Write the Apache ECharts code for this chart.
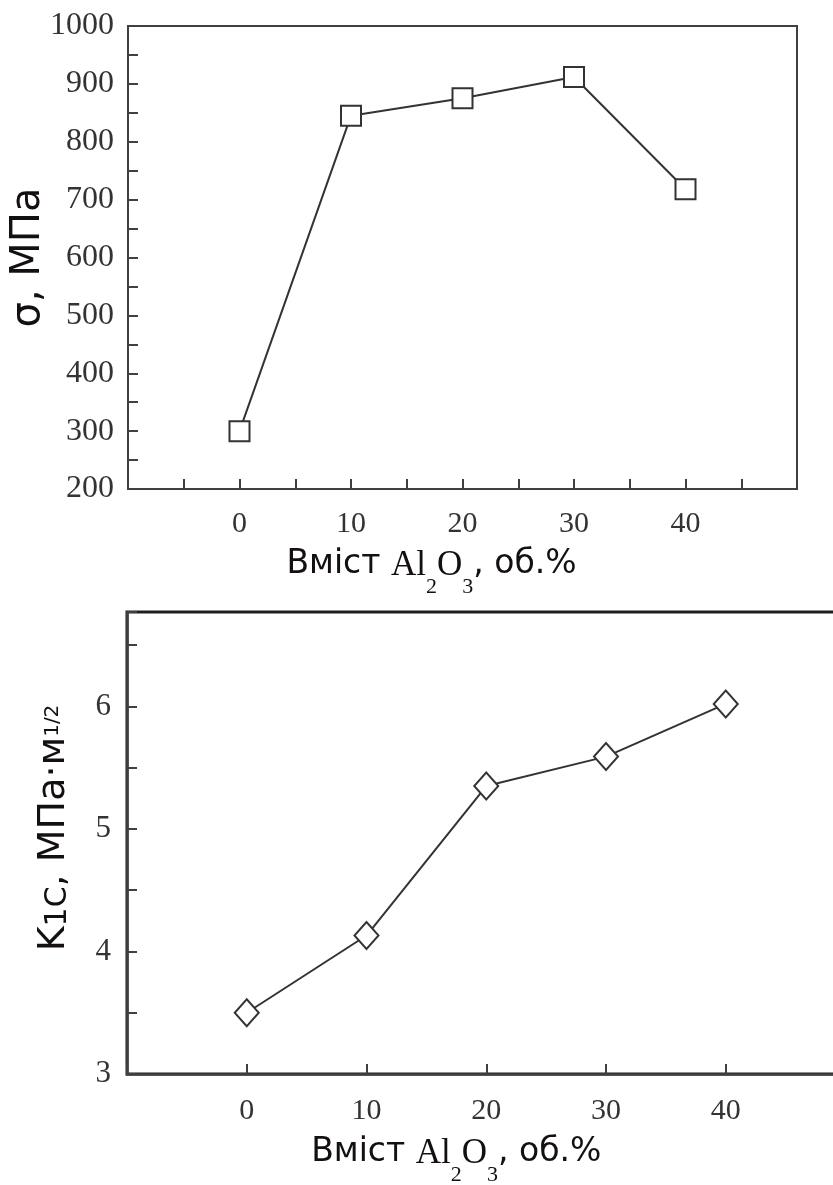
<!DOCTYPE html>
<html><head><meta charset="utf-8">
<script src="https://cdn.jsdelivr.net/npm/echarts@6/dist/echarts.min.js"></script>
<style>html,body{margin:0;padding:0;background:#fff}#c{width:833px;height:1185px}</style>
</head><body><div id="c"></div>
<script>
// ---- data ----
const contentAl2O3 = [0, 10, 20, 30, 40];
const strengthMPa = [300, 845, 875, 912, 718];
const toughnessK1C = [3.5, 4.13, 5.35, 5.59, 6.02];
const xTickLabels = [0, 10, 20, 30, 40];
const strengthTickLabels = [200, 300, 400, 500, 600, 700, 800, 900, 1000];
const toughnessTickLabels = [3, 4, 5, 6];

// ---- styles ----
const AX = '#404040';
const SERIF = '"Liberation Serif", "Times New Roman", serif';
const SANS = '"DejaVu Sans", "Open Sans", sans-serif';
const TITLE_C = '#141010';

function inList(list) {
  return v => list.some(t => Math.abs(t - v) < 1e-6) ? String(Math.round(v)) : '';
}
const tickLabel = (list, margin, size) => ({
  formatter: inList(list), fontFamily: SERIF, fontSize: size, color: '#333', margin: margin
});
const axisLine = w => ({ show: true, onZero: false, lineStyle: { color: AX, width: w } });
const tick = { show: true, inside: true, length: 10, lineStyle: { color: AX, width: 2 } };

const H = 60; // fixed token box height for the x titles
function xTitleRich(padRight) {
  return {
    s: { fontFamily: SANS, fontSize: 33, color: TITLE_C, lineHeight: 44, verticalAlign: 'top', padding: [0, 0, H - 44, 0] },
    e: { fontFamily: SANS, fontSize: 33, color: TITLE_C, lineHeight: 44, verticalAlign: 'top', padding: [0, padRight, H - 44, 0] },
    r: { fontFamily: SERIF, fontSize: 35, color: TITLE_C, lineHeight: 38, verticalAlign: 'top', padding: [0, 0, H - 38, 0] },
    sub: { fontFamily: SERIF, fontSize: 22, color: TITLE_C, lineHeight: 22, verticalAlign: 'top', padding: [28, 0, H - 50, 0] }
  };
}
const xTitle = '{s|Вміст }{r|Al}{sub|2}{r|O}{sub|3}{e|, об.%}';

const option = {
  animation: false,
  backgroundColor: '#fff',
  grid: [
    { left: 128, top: 26, width: 669, height: 463, show: true, borderColor: AX, borderWidth: 2, backgroundColor: 'transparent', outerBoundsMode: 'none', containLabel: false },
    { left: 127, top: 612, width: 718.5, height: 462, show: true, borderColor: '#1e1e1e', borderWidth: 3, backgroundColor: 'transparent', outerBoundsMode: 'none', containLabel: false }
  ],
  xAxis: [
    {
      type: 'value', gridIndex: 0, min: -10, max: 50, interval: 5,
      axisLine: axisLine(2), axisTick: tick, splitLine: { show: false },
      axisLabel: tickLabel(xTickLabels, 20, 30),
      name: xTitle, nameLocation: 'middle', nameGap: 59,
      nameTextStyle: { rich: xTitleRich(62) }
    },
    {
      type: 'value', gridIndex: 1, min: -10, max: 50, interval: 10,
      axisLine: axisLine(2.5), axisTick: tick, splitLine: { show: false },
      axisLabel: tickLabel(xTickLabels, 22, 30),
      name: xTitle, nameLocation: 'middle', nameGap: 62,
      nameTextStyle: { rich: xTitleRich(60) }
    }
  ],
  yAxis: [
    {
      type: 'value', gridIndex: 0, min: 200, max: 1000, interval: 50,
      axisLine: axisLine(2), axisTick: tick, splitLine: { show: false },
      axisLabel: tickLabel(strengthTickLabels, 14, 32),
      name: '{s|σ, МПа}', nameLocation: 'middle', nameRotate: 90, nameGap: 76, nameMoveOverlap: false,
      nameTextStyle: { rich: { s: { fontFamily: SANS, fontSize: 40, color: TITLE_C, lineHeight: 46 } } }
    },
    {
      type: 'value', gridIndex: 1, min: 3, max: 6.77, interval: 0.5,
      axisLine: axisLine(2.5), axisTick: tick, splitLine: { show: false },
      axisLabel: tickLabel(toughnessTickLabels, 16, 31),
      name: '{k|K}{kk|1C}{s|, МПа·м}{sup|1/2}', nameLocation: 'middle', nameRotate: 90, nameGap: 46,
      nameTextStyle: { rich: {
        k: { fontFamily: SANS, fontSize: 38, color: TITLE_C, lineHeight: 46, verticalAlign: 'top', padding: [0, 0, 0, 30] },
        kk: { fontFamily: SANS, fontSize: 30, color: TITLE_C, lineHeight: 36, verticalAlign: 'top', padding: [8, 0, 2, 0] },
        s: { fontFamily: SANS, fontSize: 38, color: TITLE_C, lineHeight: 46, verticalAlign: 'top' },
        sup: { fontFamily: SANS, fontSize: 20, color: TITLE_C, lineHeight: 20, verticalAlign: 'top', padding: [8, 0, 18, 0] }
      } }
    }
  ],
  series: [
    {
      type: 'line', xAxisIndex: 0, yAxisIndex: 0,
      data: contentAl2O3.map((x, i) => [x, strengthMPa[i]]),
      symbol: 'rect', symbolSize: 20, showAllSymbol: true,
      lineStyle: { color: '#333', width: 2 },
      itemStyle: { color: '#fff', borderColor: '#333', borderWidth: 2 }
    },
    {
      type: 'line', xAxisIndex: 1, yAxisIndex: 1,
      data: contentAl2O3.map((x, i) => [x, toughnessK1C[i]]),
      symbol: 'diamond', symbolSize: [24, 27], showAllSymbol: true,
      lineStyle: { color: '#333', width: 2 },
      itemStyle: { color: '#fff', borderColor: '#333', borderWidth: 2 }
    }
  ]
};
echarts.init(document.getElementById('c'), null, { renderer: 'canvas' }).setOption(option);
</script>
</body></html>
